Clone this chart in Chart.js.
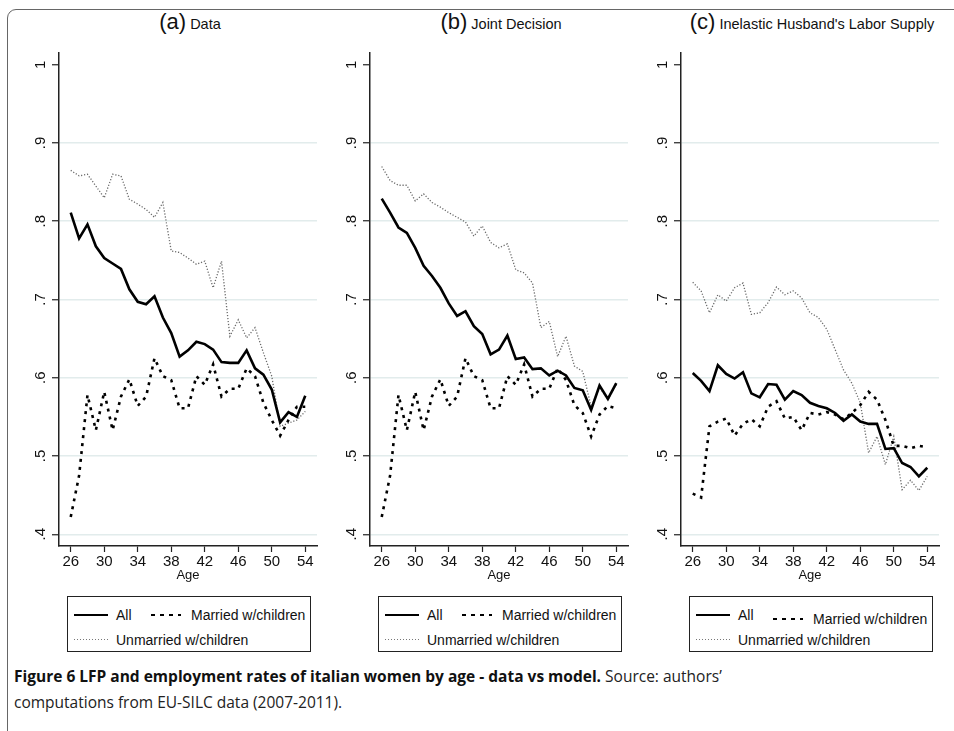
<!DOCTYPE html>
<html>
<head>
<meta charset="utf-8">
<script src="https://cdn.jsdelivr.net/npm/chart.js@4.4.1/dist/chart.umd.min.js"></script>
<style>
  body { margin: 0; background: #fff; width: 954px; height: 731px; overflow: hidden; position: relative;
         font-family: "Liberation Sans", Arial, sans-serif; color: #111; }
  #frame { position: absolute; left: 7px; top: 9px; width: 1000px; height: 800px;
           border: 1px solid #666; border-radius: 9px; }
  .panel-title { position: absolute; top: 9px; height: 26px; line-height: 26px; width: 320px; text-align: center;
                 white-space: nowrap; font-size: 14.5px; }
  .panel-title span { font-size: 22px; }
  canvas { position: absolute; top: 35px; }
  .legend { position: absolute; top: 596px; height: 56px; width: 244px; border: 1px solid #222;
            box-sizing: border-box; font-size: 14px; background: #fff; }
  .legend .sample { position: absolute; width: 34px; height: 2px; }
  .legend .label { position: absolute; white-space: nowrap; line-height: 14px; }
  .s-all { background: #000; }
  .s-mar { background: repeating-linear-gradient(90deg, #000 0 4px, transparent 4px 9px); }
  .s-unm { height: 1px !important; background: repeating-linear-gradient(90deg, #777 0 1px, transparent 1px 3px); }
  .caption { position: absolute; left: 14px; top: 663px; font-family: "Open Sans", sans-serif; font-size: 15.5px;
             line-height: 26px; color: #222; white-space: nowrap; }
  .caption b { font-weight: 700; color: #111; }
</style>
</head>
<body>
<div id="frame"></div>
<div id="root"></div>
<div class="caption"><b>Figure 6 LFP and employment rates of italian women by age - data vs model.</b> Source: authors’<br>computations from EU-SILC data (2007-2011).</div>
<script>
// ages on the x axis
const ages = [26, 27, 28, 29, 30, 31, 32, 33, 34, 35, 36, 37, 38, 39, 40,
              41, 42, 43, 44, 45, 46, 47, 48, 49, 50, 51, 52, 53, 54];

// (a) Data
const aAll = [0.811, 0.778, 0.796, 0.768, 0.753, 0.746, 0.739, 0.713, 0.697, 0.694, 0.704, 0.677, 0.657, 0.627, 0.635,
              0.646, 0.643, 0.636, 0.620, 0.619, 0.619, 0.635, 0.612, 0.604, 0.585, 0.543, 0.556, 0.550, 0.577];
const aMarried = [0.422, 0.475, 0.578, 0.533, 0.582, 0.533, 0.576, 0.598, 0.564, 0.576, 0.625, 0.602, 0.597, 0.561, 0.561,
                  0.602, 0.591, 0.617, 0.576, 0.586, 0.586, 0.612, 0.602, 0.568, 0.546, 0.526, 0.546, 0.563, 0.563];
const aUnmarried = [0.865, 0.858, 0.860, 0.845, 0.830, 0.860, 0.858, 0.828, 0.822, 0.815, 0.805, 0.824, 0.762, 0.760, 0.753,
                    0.745, 0.749, 0.715, 0.749, 0.653, 0.674, 0.651, 0.664, 0.632, 0.602, 0.538, 0.542, 0.546, 0.557];

// (b) Joint Decision
const bAll = [0.829, 0.811, 0.792, 0.785, 0.766, 0.743, 0.730, 0.715, 0.695, 0.679, 0.685, 0.666, 0.656, 0.630, 0.636,
              0.654, 0.624, 0.626, 0.611, 0.612, 0.603, 0.609, 0.603, 0.587, 0.584, 0.559, 0.590, 0.573, 0.593];
const bMarried = [0.422, 0.475, 0.578, 0.533, 0.582, 0.533, 0.576, 0.598, 0.564, 0.576, 0.625, 0.602, 0.597, 0.561, 0.561,
                  0.602, 0.591, 0.617, 0.576, 0.586, 0.586, 0.612, 0.597, 0.565, 0.555, 0.525, 0.553, 0.564, 0.561];
const bUnmarried = [0.870, 0.852, 0.846, 0.846, 0.826, 0.835, 0.824, 0.818, 0.811, 0.805, 0.799, 0.781, 0.794, 0.773, 0.766,
                    0.771, 0.738, 0.734, 0.721, 0.664, 0.672, 0.627, 0.653, 0.615, 0.608, 0.563, 0.588, 0.572, 0.591];

// (c) Inelastic Husband's Labor Supply
const cAll = [0.606, 0.596, 0.583, 0.616, 0.605, 0.599, 0.607, 0.580, 0.575, 0.592, 0.591, 0.572, 0.583, 0.578, 0.568,
              0.564, 0.561, 0.555, 0.545, 0.553, 0.544, 0.541, 0.541, 0.509, 0.510, 0.491, 0.486, 0.474, 0.485];
const cMarried = [0.452, 0.447, 0.538, 0.544, 0.548, 0.526, 0.541, 0.547, 0.538, 0.563, 0.570, 0.548, 0.550, 0.533, 0.555,
                  0.553, 0.556, 0.553, 0.547, 0.555, 0.565, 0.582, 0.572, 0.546, 0.513, 0.513, 0.510, 0.513, 0.511];
const cUnmarried = [0.722, 0.711, 0.683, 0.706, 0.698, 0.715, 0.721, 0.681, 0.683, 0.696, 0.716, 0.706, 0.711, 0.702, 0.683,
                    0.677, 0.662, 0.636, 0.610, 0.593, 0.568, 0.504, 0.525, 0.489, 0.525, 0.457, 0.469, 0.456, 0.474];

const seriesNames = ['All', 'Married w/children', 'Unmarried w/children'];
const panelLetters = ['(a)', '(b)', '(c)'];
const panelNames = ['Data', 'Joint Decision', "Inelastic Husband's Labor Supply"];
const xTicks = [26, 30, 34, 38, 42, 46, 50, 54];
const yTicks = [0.4, 0.5, 0.6, 0.7, 0.8, 0.9, 1];

const panelSeries = [
  [aAll, aMarried, aUnmarried],
  [bAll, bMarried, bUnmarried],
  [cAll, cMarried, cUnmarried]
];

// pixel x of each panel's y axis
const axisLeft = [59, 370, 681];
const FONT = '"Liberation Sans", Arial, sans-serif';

const lineStyles = [
  { borderColor: '#000', borderWidth: 2.6, borderDash: [] },
  { borderColor: '#000', borderWidth: 2.6, borderDash: [3, 5] },
  { borderColor: '#6a6a6a', borderWidth: 1.3, borderDash: [1.2, 1.8] }
];
const sampleClass = ['s-all', 's-mar', 's-unm'];

const root = document.getElementById('root');

function buildPanel(i) {
  const ax = axisLeft[i];

  // title
  const title = document.createElement('div');
  title.className = 'panel-title';
  title.style.left = (ax + 131 - 160) + 'px';
  title.innerHTML = '<span>' + panelLetters[i] + '</span> ' + panelNames[i];
  root.appendChild(title);

  // chart canvas
  const canvas = document.createElement('canvas');
  canvas.width = 315;
  canvas.height = 555;
  canvas.style.left = (ax - 49) + 'px';
  root.appendChild(canvas);

  const datasets = panelSeries[i].map((vals, k) => Object.assign({
    label: seriesNames[k],
    data: ages.map((a, j) => ({ x: a, y: vals[j] })),
    pointRadius: 0,
    tension: 0,
    fill: false
  }, lineStyles[k]));

  new Chart(canvas, {
    type: 'line',
    data: { datasets: datasets },
    options: {
      responsive: false,
      animation: false,
      layout: { padding: { top: 18, right: 8, left: 0, bottom: 7 } },
      plugins: { legend: { display: false }, tooltip: { enabled: false } },
      scales: {
        x: {
          type: 'linear', min: 24.6, max: 55.4,
          afterBuildTicks: s => { s.ticks = xTicks.map(v => ({ value: v })); },
          afterFit: s => { s.height = 37; },
          grid: { drawOnChartArea: false, tickLength: 6, tickColor: '#222', tickWidth: 1.2 },
          border: { color: '#222', width: 1.5 },
          ticks: { color: '#111', font: { size: 15, family: FONT }, padding: 1, maxRotation: 0, autoSkip: false },
          title: { display: true, text: 'Age', color: '#111', font: { size: 13, family: FONT }, padding: 0 }
        },
        y: {
          type: 'linear', min: 0.385, max: 1.015,
          afterBuildTicks: s => { s.ticks = yTicks.map(v => ({ value: v })); },
          afterFit: s => { s.width = 49; },
          grid: {
            color: ctx => (ctx.tick && ctx.tick.value === 1) ? 'rgba(0,0,0,0)' : '#e2ecec',
            lineWidth: 1.5, tickLength: 7, tickColor: '#222', tickWidth: 1.2
          },
          border: { color: '#222', width: 1.5 },
          ticks: {
            color: '#111', font: { size: 15, family: FONT }, minRotation: 90, maxRotation: 90,
            crossAlign: 'center', padding: 5,
            callback: v => v === 1 ? '1' : '.' + Math.round(v * 10)
          }
        }
      }
    }
  });

  // legend box
  const lg = document.createElement('div');
  lg.className = 'legend';
  lg.style.left = (ax + 8) + 'px';
  const rows = [
    { k: 0, sx: 6, tx: 48, y: 18 },
    { k: 1, sx: 83, tx: 123, y: i === 2 ? 22 : 18 },
    { k: 2, sx: 6, tx: 48, y: 43 }
  ];
  rows.forEach(r => {
    const s = document.createElement('div');
    s.className = 'sample ' + sampleClass[r.k];
    s.style.left = r.sx + 'px';
    s.style.top = (r.y - 1) + 'px';
    if (r.k === 1) s.style.width = '30px';
    lg.appendChild(s);
    const t = document.createElement('div');
    t.className = 'label';
    t.style.left = r.tx + 'px';
    t.style.top = (r.y - 7) + 'px';
    t.textContent = seriesNames[r.k];
    lg.appendChild(t);
  });
  root.appendChild(lg);
}

for (let i = 0; i < 3; i++) buildPanel(i);
</script>
</body>
</html>
